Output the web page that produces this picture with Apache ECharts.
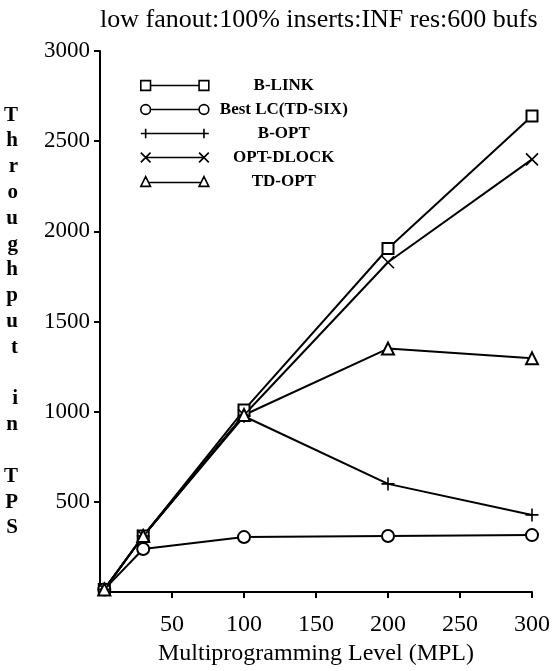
<!DOCTYPE html>
<html>
<head>
<meta charset="utf-8">
<script src="https://cdn.jsdelivr.net/npm/echarts@6/dist/echarts.min.js"></script>
<style>
  html, body { margin: 0; padding: 0; background: #fff; }
  #chart { width: 555px; height: 671px; }
</style>
</head>
<body>
<div id="chart"></div>
<script>
// data
const titleText = 'low fanout:100% inserts:INF res:600 bufs';
const mpl = [3, 30, 100, 200, 300];
const seriesNames = ['B-LINK', 'Best LC(TD-SIX)', 'B-OPT', 'OPT-DLOCK', 'TD-OPT'];
const bLink = [15, 311, 1009, 1905, 2640];
const bestLC = [15, 239, 305, 311, 316];
const bOpt = [15, 311, 975, 600, 428];
const optDlock = [15, 311, 982, 1829, 2399];
const tdOpt = [15, 311, 982, 1350, 1296];
const xTicks = [0, 50, 100, 150, 200, 250, 300];
const yTicks = [0, 500, 1000, 1500, 2000, 2500, 3000];

const serif = 'Liberation Serif';
const chart = echarts.init(document.getElementById('chart'));

// marker shapes on the lines
const symbols = [
  'emptyRect',
  'emptyCircle',
  'path://M0,5 H10 M5,0 V10',
  'path://M0,0 L10,10 M0,10 L10,0',
  'emptyTriangle'
];
const symbolSizes = [11, 12, 13, 12, 12];

// legend samples: marker, line, marker
const legendIcons = [
  'path://M0,0 H10 V10 H0 Z M10,5 H60 M60,0 H70 V10 H60 Z',
  'path://M0,5 A5,5 0 1,1 10,5 A5,5 0 1,1 0,5 Z M10,5 H60 M60,5 A5,5 0 1,1 70,5 A5,5 0 1,1 60,5 Z',
  'path://M0,5 H70 M5,0 V10 M65,0 V10',
  'path://M0,0 L10,10 M0,10 L10,0 M5,5 H65 M60,0 L70,10 M60,10 L70,0',
  'path://M5,0 L10,10 L0,10 Z M8,6 H62 M65,0 L70,10 L60,10 Z'
];

const values = [bLink, bestLC, bOpt, optDlock, tdOpt];

const series = seriesNames.map((name, i) => ({
  name: name,
  type: 'line',
  data: mpl.map((x, j) => [x, values[i][j]]),
  symbol: symbols[i],
  symbolSize: symbolSizes[i],
  showAllSymbol: true,
  lineStyle: { color: '#000', width: 2 },
  itemStyle: { color: '#000', borderColor: '#000', borderWidth: 1.6 },
  emphasis: { disabled: true },
  animation: false
}));

const option = {
  backgroundColor: '#fff',
  animation: false,
  title: {
    text: titleText,
    left: 95,
    top: 2,
    textStyle: { fontFamily: serif, fontWeight: 'normal', fontSize: 26, color: '#000' }
  },
  legend: {
    orient: 'vertical',
    left: 135,
    top: 72,
    itemWidth: 68,
    itemHeight: 10,
    itemGap: 7,
    selectedMode: false,
    data: seriesNames.map((n, i) => ({ name: n, icon: legendIcons[i] })),
    itemStyle: { color: 'transparent', borderColor: '#000', borderWidth: 1.6 },
    formatter: name => '{c|' + name + '}',
    textStyle: {
      rich: {
        c: {
          width: 140,
          align: 'center',
          fontFamily: serif,
          fontWeight: 'bold',
          fontSize: 17,
          lineHeight: 20,
          color: '#000'
        }
      }
    }
  },
  grid: { left: 100, right: 23, top: 51, bottom: 67 },
  xAxis: {
    type: 'value',
    min: xTicks[0],
    max: xTicks[xTicks.length - 1],
    interval: 50,
    name: 'Multiprogramming Level (MPL)',
    nameLocation: 'middle',
    nameGap: 40,
    nameTextStyle: { fontFamily: serif, fontSize: 24, color: '#000' },
    axisLine: { lineStyle: { color: '#000', width: 2 } },
    axisTick: { inside: false, length: 6, lineStyle: { color: '#000', width: 2 } },
    axisLabel: {
      showMinLabel: false,
      margin: 21,
      fontFamily: serif,
      fontSize: 24,
      color: '#000',
      formatter: v => String(v)
    },
    splitLine: { show: false }
  },
  yAxis: {
    type: 'value',
    min: yTicks[0],
    max: yTicks[yTicks.length - 1],
    interval: 500,
    name: 'Throughput in TPS'.split('').join('\n'),
    nameLocation: 'middle',
    nameRotate: 0,
    nameGap: 82,
    nameTextStyle: {
      fontFamily: serif,
      fontWeight: 'bold',
      fontSize: 21,
      lineHeight: 25.8,
      color: '#000'
    },
    axisLine: { show: true, lineStyle: { color: '#000', width: 2 } },
    axisTick: { show: true, inside: false, length: 6, lineStyle: { color: '#000', width: 2 } },
    axisLabel: {
      showMinLabel: false,
      margin: 10,
      fontFamily: serif,
      fontSize: 23,
      color: '#000',
      formatter: v => String(v)
    },
    splitLine: { show: false }
  },
  series: series
};

chart.setOption(option);
</script>
</body>
</html>
